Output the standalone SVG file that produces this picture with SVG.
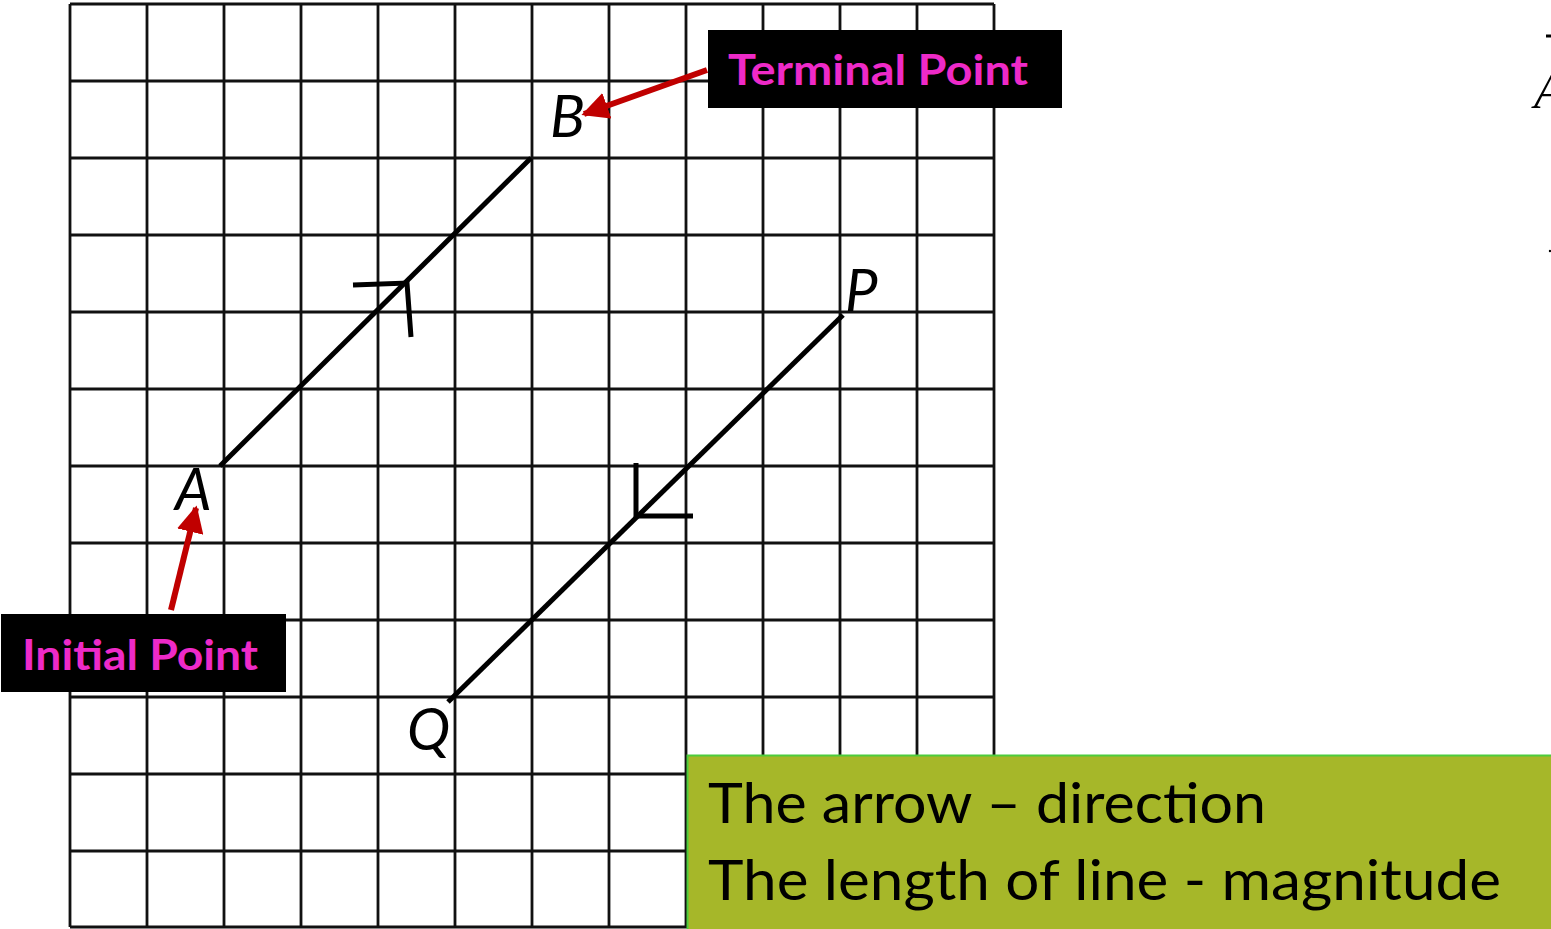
<svg xmlns="http://www.w3.org/2000/svg" width="1551" height="929" viewBox="0 0 1551 929">
<style>
.grid line{stroke:#111;stroke-width:2.8}
.vec{stroke:#000;stroke-width:5;stroke-linecap:butt;fill:none}
.lbl{font-family:Lato,"Liberation Sans",sans-serif;font-style:italic;font-size:58px;fill:#000}
.tag{font-family:Lato,"Open Sans",sans-serif;font-weight:bold;font-size:42px;fill:#ee2ac8}
.note{font-family:Lato,"Liberation Sans",sans-serif;font-size:56px;fill:#000}
.red{stroke:#c00000;stroke-width:6;fill:none}
</style>
<defs>
<marker id="ah" viewBox="0 0 10 10" refX="9" refY="5" markerWidth="4.5" markerHeight="4.5" orient="auto" markerUnits="strokeWidth">
<path d="M0,0 L10,5 L0,10 z" fill="#c00000"/>
</marker>
</defs>
<rect width="1551" height="929" fill="#fff"/>
<g id="grid" class="grid">
<line x1="70" y1="4" x2="70" y2="927"/><line x1="147" y1="4" x2="147" y2="927"/><line x1="224" y1="4" x2="224" y2="927"/><line x1="301" y1="4" x2="301" y2="927"/><line x1="378" y1="4" x2="378" y2="927"/><line x1="455" y1="4" x2="455" y2="927"/><line x1="532" y1="4" x2="532" y2="927"/><line x1="609" y1="4" x2="609" y2="927"/><line x1="686" y1="4" x2="686" y2="927"/><line x1="763" y1="4" x2="763" y2="927"/><line x1="840" y1="4" x2="840" y2="927"/><line x1="917" y1="4" x2="917" y2="927"/><line x1="994" y1="4" x2="994" y2="927"/>
<line x1="70" y1="4" x2="994" y2="4"/><line x1="70" y1="81" x2="994" y2="81"/><line x1="70" y1="158" x2="994" y2="158"/><line x1="70" y1="235" x2="994" y2="235"/><line x1="70" y1="312" x2="994" y2="312"/><line x1="70" y1="389" x2="994" y2="389"/><line x1="70" y1="466" x2="994" y2="466"/><line x1="70" y1="543" x2="994" y2="543"/><line x1="70" y1="620" x2="994" y2="620"/><line x1="70" y1="697" x2="994" y2="697"/><line x1="70" y1="774" x2="994" y2="774"/><line x1="70" y1="851" x2="994" y2="851"/><line x1="70" y1="927" x2="994" y2="927"/>
</g>
<g id="connectors">
<line class="vec" x1="220" y1="466" x2="531" y2="158"/>
<polyline class="vec" points="353,285 407,283 411,337"/>
<line class="vec" x1="843" y1="315" x2="448" y2="702"/>
<polyline class="vec" points="636,463 636,516 693,516"/>
<line class="red" x1="707" y1="70" x2="584" y2="114" marker-end="url(#ah)"/>
<line class="red" x1="171" y1="610" x2="196" y2="508" marker-end="url(#ah)"/>
</g>
<g id="label-B"><text class="lbl" x="550" y="137">B</text></g>
<g id="label-A"><text class="lbl" x="175" y="510">A</text></g>
<g id="label-P"><text class="lbl" x="845" y="311">P</text></g>
<g id="label-Q"><text class="lbl" x="407" y="750">Q</text></g>
<g id="terminal-point">
<rect x="708" y="30" width="354" height="78" fill="#000"/>
<text class="tag" x="728" y="85" textLength="300" lengthAdjust="spacingAndGlyphs">Terminal Point</text>
</g>
<g id="initial-point">
<rect x="1" y="614" width="285" height="78" fill="#000"/>
<text class="tag" x="22" y="670" textLength="236" lengthAdjust="spacingAndGlyphs">Initial Point</text>
</g>
<g id="note">
<rect x="687.5" y="755.5" width="866" height="176" fill="#a6b729" stroke="#4ccc3c" stroke-width="2"/>
<text class="note" x="708" y="823" textLength="558" lengthAdjust="spacingAndGlyphs">The arrow – direction</text>
<text class="note" x="708" y="900" textLength="793" lengthAdjust="spacingAndGlyphs">The length of line - magnitude</text>
</g>
<g id="edge-fragment">
<line x1="1546" y1="36" x2="1551" y2="36" stroke="#000" stroke-width="3"/>
<text x="1534" y="108" font-family="Liberation Serif,serif" font-style="italic" font-size="50" fill="#000">A</text>
<circle cx="1550" cy="251" r="1.2" fill="#000"/>
</g>
</svg>
